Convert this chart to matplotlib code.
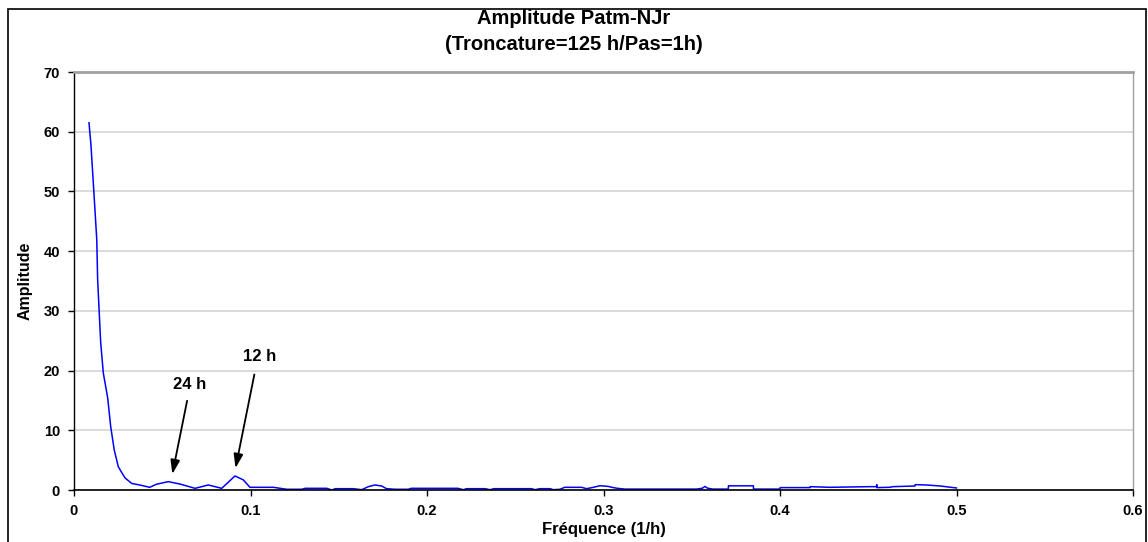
import matplotlib.pyplot as plt
from matplotlib.patches import Rectangle

plt.rcParams['font.family'] = ['Liberation Sans', 'DejaVu Sans']
plt.rcParams['font.weight'] = 'bold'

# spectre (fréquence en 1/h, amplitude)
freq = [0.0085, 0.0096, 0.0113, 0.0129, 0.0134, 0.0151, 0.0166, 0.0191, 0.0208,
        0.0228, 0.0251, 0.0279, 0.0290, 0.0327, 0.0372, 0.0429, 0.0466, 0.0534,
        0.0600, 0.0686, 0.0761, 0.0799, 0.0837, 0.0912, 0.0959, 0.0997, 0.1130,
        0.1205, 0.1290, 0.1310, 0.1432, 0.1461, 0.1480, 0.1582, 0.1630, 0.1668,
        0.1705, 0.1743, 0.1771, 0.1820, 0.1895, 0.1910, 0.2175, 0.2206, 0.2225,
        0.2329, 0.2357, 0.2380, 0.2593, 0.2612, 0.2640, 0.2697, 0.2716, 0.2754,
        0.2780, 0.2875, 0.2905, 0.2943, 0.2980, 0.3027, 0.3055, 0.3080, 0.3120,
        0.3528, 0.3560, 0.3575, 0.3590, 0.3620, 0.3707, 0.3708, 0.3849, 0.3850,
        0.4000, 0.4001, 0.4170, 0.4171, 0.4280, 0.4510, 0.4547, 0.4548, 0.4549,
        0.4620, 0.4640, 0.4765, 0.4766, 0.4830, 0.4907, 0.5000]
amp = [61.5, 57.8, 49.7, 41.9, 35.2, 24.8, 19.6, 15.4, 10.6,
       6.7, 3.9, 2.5, 2.0, 1.1, 0.84, 0.45, 0.95, 1.4,
       1.0, 0.28, 0.84, 0.56, 0.28, 2.35, 1.7, 0.45, 0.45,
       0.12, 0.12, 0.28, 0.28, 0.0, 0.22, 0.22, 0.05, 0.56,
       0.84, 0.67, 0.22, 0.12, 0.12, 0.28, 0.28, 0.05, 0.22,
       0.22, 0.05, 0.22, 0.22, 0.05, 0.22, 0.22, 0.05, 0.12,
       0.45, 0.45, 0.22, 0.45, 0.72, 0.60, 0.40, 0.28, 0.15,
       0.15, 0.30, 0.60, 0.30, 0.15, 0.15, 0.70, 0.70, 0.15,
       0.15, 0.40, 0.40, 0.56, 0.45, 0.56, 0.56, 0.90, 0.40,
       0.45, 0.56, 0.67, 0.90, 0.84, 0.67, 0.34]

annotations = ['24 h', '12 h']
ann_text_xy = [(0.0657, 17.7), (0.1054, 22.3)]
ann_head_xy = [(0.0554, 2.2), (0.0912, 3.2)]
ann_tail_xy = [(0.0644, 15.4), (0.1025, 19.8)]

fig = plt.figure(figsize=(11.48, 5.42), dpi=100)
ax = fig.add_axes([74 / 1148, 1 - 490 / 542, (1133 - 74) / 1148, (490 - 72) / 542])

ax.plot(freq, amp, color='#0000ff', linewidth=1.1)

ax.set_xlim(0, 0.6)
ax.set_ylim(0, 70)
ax.set_xticks([0, 0.1, 0.2, 0.3, 0.4, 0.5, 0.6])
ax.set_xticklabels(['0', '0.1', '0.2', '0.3', '0.4', '0.5', '0.6'])
ax.set_yticks(range(0, 71, 10))
ax.tick_params(labelsize=10.5, length=4, width=1, pad=6)
ax.grid(axis='y', color='#d4d4d4', linewidth=1.2)
ax.set_axisbelow(True)

for s in ['top', 'right']:
    ax.spines[s].set_color('#a0a0a0')
ax.spines['top'].set_linewidth(2)
ax.spines['right'].set_linewidth(1)
ax.spines['left'].set_linewidth(1)
ax.spines['bottom'].set_linewidth(1.2)

for lab, txy, hxy, sxy in zip(annotations, ann_text_xy, ann_head_xy, ann_tail_xy):
    ax.text(txy[0], txy[1], lab, ha='center', va='center', fontsize=12, fontweight='bold')
    ax.annotate('', xy=hxy, xytext=sxy,
                arrowprops=dict(arrowstyle='-|>,head_length=0.6,head_width=0.2',
                                color='black', lw=1.3, mutation_scale=14))

ax.set_xlabel('Fréquence (1/h)', fontsize=12, fontweight='bold', labelpad=3)
ax.set_ylabel('Amplitude', fontsize=11.5, fontweight='bold', labelpad=8)

fig.text(0.5, 1 - 19 / 542, 'Amplitude Patm-NJr', ha='center', va='center',
         fontsize=14.5, fontweight='bold')
fig.text(0.5, 1 - 45 / 542, '(Troncature=125 h/Pas=1h)', ha='center', va='center',
         fontsize=14.5, fontweight='bold')

fig.patches.append(Rectangle((8 / 1148, -0.02), (1146 - 8) / 1148, 1.02 - 9 / 542,
                             transform=fig.transFigure, fill=False,
                             edgecolor='black', linewidth=1.2))

fig.savefig('out.png', dpi=100)
